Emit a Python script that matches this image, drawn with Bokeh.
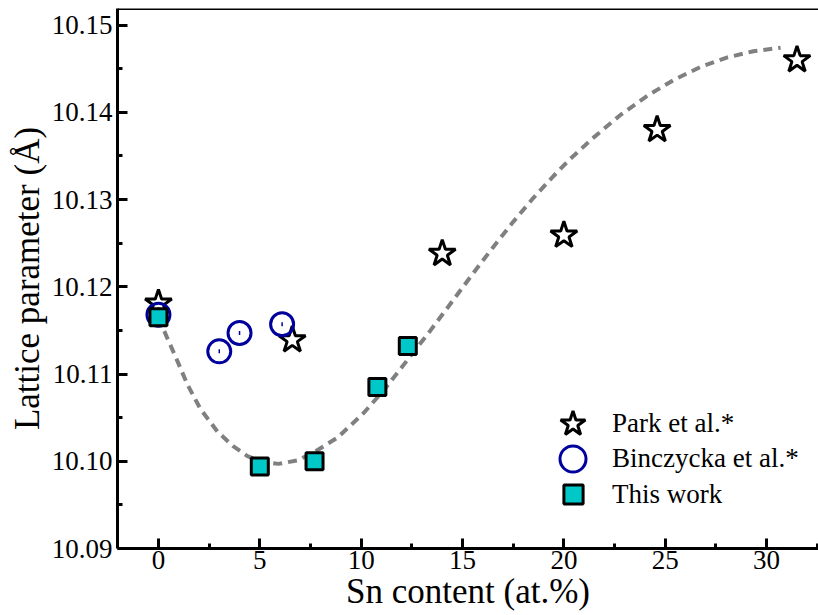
import numpy as np
from bokeh.plotting import figure
from bokeh.models import Range1d, FixedTicker, NumeralTickFormatter, Legend, LegendItem, Span
from bokeh.embed import file_html
from bokeh.resources import INLINE

# ---- data ----
park_x = [0.0, 6.6, 14.0, 20.0, 24.6, 31.5]
park_y = [10.1181, 10.1139, 10.1238, 10.1259, 10.1380, 10.1460]

binc_x = [0.0, 3.0, 4.0, 6.1]
binc_y = [10.1168, 10.1126, 10.1147, 10.1157]

work_x = [0.0, 5.0, 7.7, 10.8, 12.3]
work_y = [10.1165, 10.0994, 10.1000, 10.1085, 10.1132]

fit_x = [0.0, 0.42, 0.84, 1.43, 2.07, 2.91, 3.70, 4.39, 5.13, 5.92, 6.86, 7.65,
         8.83, 10.11, 11.10, 12.28, 13.42, 14.26, 15.54, 16.53, 17.52, 18.50,
         19.49, 20.33, 21.46, 22.79, 24.12, 25.41, 26.74, 28.07, 29.35, 30.69]
fit_y = [10.1165, 10.1142, 10.1120, 10.1088, 10.1060, 10.1034, 10.1017, 10.1006,
         10.0999, 10.0997, 10.1001, 10.1010, 10.1027, 10.1055, 10.1081, 10.1116,
         10.1150, 10.1176, 10.1216, 10.1246, 10.1275, 10.1302, 10.1327, 10.1347,
         10.1371, 10.1397, 10.1419, 10.1437, 10.1452, 10.1463, 10.1470, 10.1474]

x_ticks = [0, 5, 10, 15, 20, 25, 30]
x_minor = [2.5, 7.5, 12.5, 17.5, 22.5, 27.5, 32.5]
y_ticks = [10.09, 10.10, 10.11, 10.12, 10.13, 10.14, 10.15]
y_minor = [10.095, 10.105, 10.115, 10.125, 10.135, 10.145]

labels = ["Park et al.*", "Binczycka et al.*", "This work"]

FONT = "Liberation Serif"
NAVY = "#00009c"
CYAN = "#00c8c8"

p = figure(width=818, height=615, output_backend="svg", toolbar_location=None,
           x_range=Range1d(-2.02, 32.56), y_range=Range1d(10.09, 10.1519),
           min_border_left=117, min_border_right=0, min_border_top=8,
           min_border_bottom=67)
p.xgrid.visible = False
p.ygrid.visible = False
p.outline_line_color = None
p.background_fill_color = "white"
p.border_fill_color = "white"

p.xaxis.ticker = FixedTicker(ticks=x_ticks, minor_ticks=x_minor)
p.yaxis.ticker = FixedTicker(ticks=y_ticks, minor_ticks=y_minor)
p.yaxis.formatter = NumeralTickFormatter(format="0.00")
p.xaxis.axis_label = "Sn content (at.%)"
p.yaxis.axis_label = "Lattice parameter (Å)"

for ax in (p.xaxis[0], p.yaxis[0]):
    ax.axis_line_width = 3
    ax.axis_line_color = "black"
    ax.major_tick_line_width = 3
    ax.minor_tick_line_width = 3
    ax.major_tick_in = 10
    ax.major_tick_out = 0
    ax.minor_tick_in = 5
    ax.minor_tick_out = 0
    ax.major_label_text_font = FONT
    ax.major_label_text_font_size = "27px"
    ax.major_label_text_color = "black"
    ax.axis_label_text_font = FONT
    ax.axis_label_text_font_size = "35px"
    ax.axis_label_text_font_style = "normal"
    ax.axis_label_text_color = "black"
p.xaxis.major_label_standoff = 2
p.xaxis.axis_label_standoff = 0
p.yaxis.major_label_standoff = 5
p.yaxis.axis_label_standoff = 2

p.add_layout(Span(location=10.1519, dimension="width", line_width=3, line_color="black"))

p.line(fit_x, fit_y, line_color="#808080", line_width=4, line_dash="9 6")

r_park = p.scatter(park_x, park_y, marker="star", size=28, fill_color="white",
                   line_color="black", line_width=3)
r_binc = p.scatter(binc_x, binc_y, marker="circle", size=23, fill_color=None,
                   line_color=NAVY, line_width=3)
p.scatter(binc_x, binc_y, marker="dash", angle=np.pi / 2, size=4,
          line_color=NAVY, line_width=1.5)
r_work = p.scatter(work_x, work_y, marker="square", size=17, fill_color=CYAN,
                   line_color="black", line_width=3)

common = dict(padding=0, margin=0, background_fill_alpha=0, border_line_color=None,
              label_text_font=FONT, label_text_font_size="27px",
              label_text_color="black")
leg1 = Legend(items=[LegendItem(label=labels[0], renderers=[r_park])],
              location=(423, 92), glyph_width=65, glyph_height=65,
              label_standoff=7, **common)
leg2 = Legend(items=[LegendItem(label=labels[1], renderers=[r_binc])],
              location=(423, 57), glyph_width=65, glyph_height=65,
              label_standoff=7, **common)
leg3 = Legend(items=[LegendItem(label=labels[2], renderers=[r_work])],
              location=(432, 30), glyph_width=48, glyph_height=48,
              label_standoff=15, **common)
p.add_layout(leg1)
p.add_layout(leg2)
p.add_layout(leg3)

open("out.html", "w").write(file_html(p, INLINE))
